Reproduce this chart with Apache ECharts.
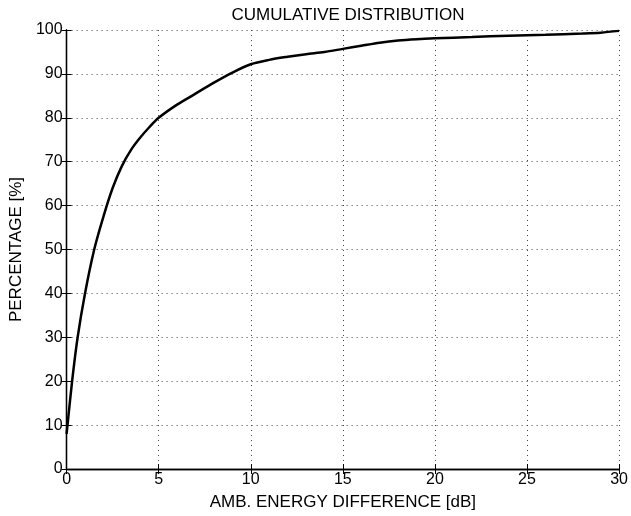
<!DOCTYPE html>
<html>
<head>
<meta charset="utf-8">
<script src="https://cdn.jsdelivr.net/npm/echarts@6/dist/echarts.min.js"></script>
<style>
  html, body { margin: 0; padding: 0; background: #fff; }
  #chart { width: 631px; height: 516px; }
</style>
</head>
<body>
<div id="chart"></div>
<script>
// cumulative curve
const energyDiff = [0, 0.3, 0.6, 1, 1.5, 2, 2.5, 3, 3.5, 4, 4.5, 5, 6, 7, 8, 9, 10, 11, 12, 13, 14, 15, 16, 17, 18, 19, 20, 22, 24, 26, 28, 29, 30]
const percentage = [8, 20, 30, 40, 50, 57.5, 64, 69, 72.7, 75.5, 77.9, 80, 83, 85.5, 88, 90.3, 92.2, 93.2, 93.9, 94.5, 95, 95.7, 96.4, 97.1, 97.6, 97.9, 98.1, 98.4, 98.7, 98.9, 99.2, 99.4, 99.8]
const xTicks = [0, 5, 10, 15, 20, 25, 30]
const yTicks = [0, 10, 20, 30, 40, 50, 60, 70, 80, 90, 100]

const font = 'Liberation Sans, Arial, sans-serif'
const chart = echarts.init(document.getElementById('chart'))

const lineBlack = { show: true, lineStyle: { color: '#000', width: 1.3 } }
const tickIn = { show: true, inside: true, length: 5, lineStyle: { color: '#000' } }
const dotted = { show: true, lineStyle: { color: '#444', width: 1, type: [1, 4] } }

const option = {
  animation: false,
  title: {
    text: 'CUMULATIVE DISTRIBUTION',
    left: 343,
    top: 2,
    textAlign: 'center',
    textStyle: { fontFamily: font, fontSize: 17, fontWeight: 'normal', color: '#000' }
  },
  grid: { left: 65, right: 10, top: 30, bottom: 46 },
  xAxis: [
    {
      type: 'value', min: 0, max: 30, interval: 5,
      name: 'AMB. ENERGY DIFFERENCE [dB]',
      nameLocation: 'middle', nameGap: 25,
      nameTextStyle: { fontFamily: font, fontSize: 17, color: '#000' },
      axisLine: lineBlack, axisTick: tickIn, splitLine: dotted,
      axisLabel: { fontFamily: font, fontSize: 16, color: '#000', margin: 3,
        formatter: v => xTicks.includes(v) ? String(v) : '' }
    },
    {
      type: 'value', min: 0, max: 30, interval: 5, position: 'top',
      axisLine: lineBlack, axisTick: tickIn, splitLine: { show: false },
      axisLabel: { show: false }
    }
  ],
  yAxis: [
    {
      type: 'value', min: 0, max: 100, interval: 10,
      name: 'PERCENTAGE [%]',
      nameLocation: 'middle', nameGap: 40, nameRotate: 90,
      nameTextStyle: { fontFamily: font, fontSize: 17, color: '#000' },
      axisLine: lineBlack, axisTick: tickIn, splitLine: dotted,
      axisLabel: { fontFamily: font, fontSize: 16, color: '#000', margin: 4,
        formatter: v => yTicks.includes(v) ? String(v) : '' }
    },
    {
      type: 'value', min: 0, max: 100, interval: 10, position: 'right',
      axisLine: lineBlack, axisTick: tickIn, splitLine: { show: false },
      axisLabel: { show: false }
    }
  ],
  series: [{
    type: 'line',
    data: energyDiff.map((x, i) => [x, percentage[i]]),
    smooth: 0.3,
    showSymbol: false,
    lineStyle: { color: '#000', width: 2.5 }
  }]
}
chart.setOption(option)
</script>
</body>
</html>
